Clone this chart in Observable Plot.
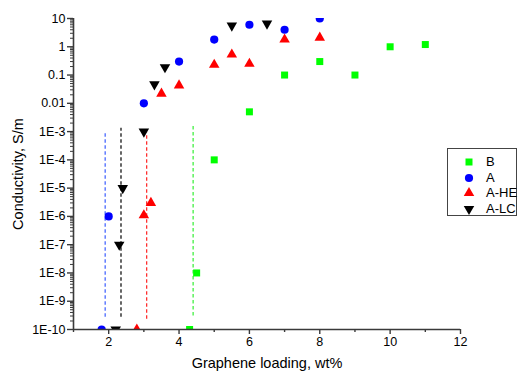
<!DOCTYPE html>
<html><head><meta charset="utf-8">
<script src="https://cdn.jsdelivr.net/npm/d3@7"></script>
<script src="https://cdn.jsdelivr.net/npm/@observablehq/plot@0.6"></script>
<style>
body{margin:0;background:#fff;font-family:"Liberation Sans",Arial,sans-serif}
#wrap{position:relative;width:518px;height:374px;overflow:hidden}
#legend{position:absolute;left:447px;top:148px;width:70px;height:68px;border:1px solid #444;box-sizing:border-box;background:#fff;font-size:13px;color:#000}
.row{position:absolute;left:0;height:16px;display:flex;align-items:center}
.row svg{position:absolute;left:14px;top:1px}
.row span{position:absolute;left:38px;white-space:nowrap;line-height:16px;top:0}
</style></head><body><div id="wrap"></div>
<script>
const seriesNames = ["B", "A", "A-HE", "A-LC"];
const seriesColors = ["#00ff00", "#0000ff", "#ff0000", "#000000"];
const seriesSymbols = ["square", "circle", "triangle", "triangleDown"];

const bX = [4.3, 4.5, 5, 6, 7, 8, 9, 10, 11];
const bY = [1e-10, 1e-8, 1e-4, 0.005, 0.1, 0.3, 0.1, 1, 1.2];
const aX = [1.8, 2, 3, 4, 5, 6, 7, 8];
const aY = [1e-10, 1e-6, 0.01, 0.3, 1.8, 6, 4, 10];
const heX = [2.8, 3, 3.2, 3.5, 4, 5, 5.5, 6, 7, 8];
const heY = [1e-10, 1.1e-6, 3e-6, 0.022, 0.043, 0.23, 0.53, 0.25, 1.8, 2.1];
const lcX = [2.2, 2.3, 2.4, 3, 3.3, 3.6, 5.5, 6.5];
const lcY = [1e-10, 1e-7, 1e-5, 1e-3, 0.047, 0.19, 5.6, 6.6];

// percolation threshold dashed lines (A, A-LC, A-HE, B)
const threshX = [1.9, 2.35, 3.08, 4.4];
const threshTop = [1e-3, 1.3e-3, 9e-4, 1.5e-3];
const threshBottom = [2.7e-10, 2.7e-10, 2.3e-10, 3e-10];
const threshColors = ["#3a5cff", "#000000", "#ff2020", "#33ee33"];

const yTicks = [1e-10, 1e-9, 1e-8, 1e-7, 1e-6, 1e-5, 1e-4, 1e-3, 0.01, 0.1, 1, 10];
const yTickLabels = ["1E-10", "1E-9", "1E-8", "1E-7", "1E-6", "1E-5", "1E-4", "1E-3", "0.01", "0.1", "1", "10"];
const xTicks = [2, 4, 6, 8, 10, 12];
const xTickLabels = ["2", "4", "6", "8", "10", "12"];
const xMinorTicks = [1, 3, 5, 7, 9, 11];

const yMinor = [];
for (let i = 0; i < yTicks.length - 1; i++) for (let k = 2; k <= 9; k++) yMinor.push(yTicks[i] * k);

const triangleDown = {
  draw(ctx, size) {
    const s3 = Math.sqrt(3);
    const y = Math.sqrt(size / (s3 * 3));
    ctx.moveTo(0, y * 2);
    ctx.lineTo(-s3 * y, -y);
    ctx.lineTo(s3 * y, -y);
    ctx.closePath();
  }
};

const series = [
  {x: bX, y: bY, r: 3.95},
  {x: aX, y: aY, r: 4.1},
  {x: heX, y: heY, r: 3.9},
  {x: lcX, y: lcY, r: 3.9}
];
const symbolFor = s => s === "triangleDown" ? triangleDown : s;

const thresholds = threshX.map((x, i) => ({x, y1: threshBottom[i], y2: threshTop[i], c: threshColors[i]}));

const axisStroke = "#3a3a3a";
const dotMarks = series.map((s, i) => Plot.dot(s.x.map((x, j) => ({x, y: s.y[j]})), {
  x: "x", y: "y", r: s.r, fill: seriesColors[i], stroke: "none",
  symbol: symbolFor(seriesSymbols[i]), clip: true
}));

const chart = Plot.plot({
  width: 518, height: 374,
  marginLeft: 73, marginRight: 58, marginTop: 18, marginBottom: 45,
  style: {fontFamily: "'Liberation Sans', Arial, sans-serif", fontSize: "12.5px", color: "#000", background: "#fff", overflow: "visible"},
  x: {domain: [1, 12]},
  y: {type: "log", domain: [1e-10, 10]},
  marks: [
    Plot.ruleX(thresholds, {x: "x", y1: "y1", y2: "y2", stroke: "c", strokeDasharray: "3.5,2.5", strokeWidth: 1.2}),
    ...dotMarks,
    Plot.ruleY([1e-10], {stroke: axisStroke, strokeWidth: 1.6}),
    Plot.ruleX([1], {stroke: axisStroke, strokeWidth: 1.6}),
    Plot.axisX({ticks: xTicks, tickSize: 5, tickPadding: 3, stroke: axisStroke, strokeWidth: 1.4,
      tickFormat: d => xTickLabels[xTicks.indexOf(d)], label: null}),
    Plot.axisX({ticks: xMinorTicks, tickSize: 3, stroke: axisStroke, strokeWidth: 1.4, tickFormat: () => "", label: null}),
    Plot.axisX({ticks: [], label: "Graphene loading, wt%", labelAnchor: "center", labelArrow: "none", labelOffset: 38, fontSize: 14.5}),
    Plot.axisY({ticks: yTicks, tickSize: 6, tickPadding: 2, stroke: axisStroke, strokeWidth: 1.4,
      tickFormat: d => yTickLabels[yTicks.indexOf(d)], label: null}),
    Plot.axisY({ticks: yMinor, tickSize: 3, stroke: axisStroke, strokeWidth: 1, tickFormat: () => "", label: null}),
    Plot.axisY({ticks: [], label: "Conductivity, S/m", labelAnchor: "center", labelArrow: "none", labelOffset: 61, fontSize: 14.5})
  ]
});

const wrap = document.getElementById("wrap");
wrap.appendChild(chart);

const legend = document.createElement("div");
legend.id = "legend";
seriesNames.forEach((name, i) => {
  const row = document.createElement("div");
  row.className = "row";
  row.style.top = (5 + i * 15.7) + "px";
  const sym = d3.symbol().type(seriesSymbols[i] === "triangleDown" ? triangleDown :
    {square: d3.symbolSquare, circle: d3.symbolCircle, triangle: d3.symbolTriangle}[seriesSymbols[i]])
    .size(Math.PI * series[i].r * series[i].r);
  row.innerHTML = `<svg width="14" height="14" viewBox="-7 -7 14 14"><path d="${sym()}" fill="${seriesColors[i]}"/></svg><span>${name}</span>`;
  legend.appendChild(row);
});
wrap.appendChild(legend);
</script>
</body></html>
